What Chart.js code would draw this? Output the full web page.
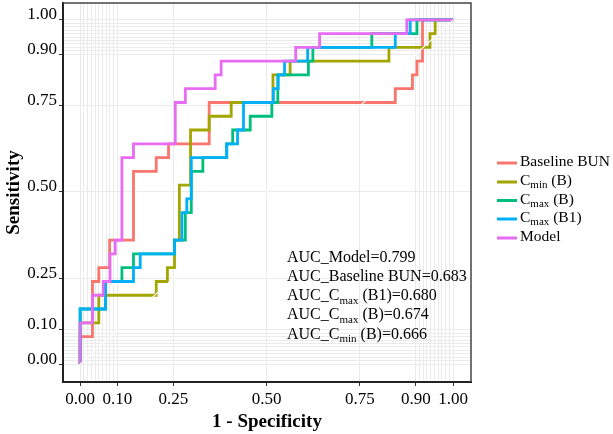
<!DOCTYPE html>
<html>
<head>
<meta charset="utf-8">
<script src="https://cdn.jsdelivr.net/npm/chart.js@4/dist/chart.umd.min.js"></script>
<style>
  html, body { margin: 0; padding: 0; background: #fff; }
</style>
</head>
<body>
<canvas id="roc" width="613" height="434"></canvas>
<script>
// --- ROC data: step corners (1 - specificity, sensitivity) ---
const bunFpr   = [0, 0, 0.033, 0.050, 0.079, 0.143, 0.204, 0.237, 0.346, 0.845, 0.891, 0.903, 0.918, 1];
const bunTpr   = [0, 0.08, 0.24, 0.28, 0.36, 0.56, 0.60, 0.64, 0.76, 0.80, 0.84, 0.88, 1.00, 1];

const cminFpr  = [0, 0, 0.050, 0.204, 0.234, 0.253, 0.266, 0.296, 0.346, 0.405, 0.517, 0.563, 0.828, 0.938, 0.952, 1];
const cminTpr  = [0, 0.12, 0.20, 0.24, 0.28, 0.36, 0.52, 0.68, 0.72, 0.76, 0.84, 0.88, 0.92, 0.96, 1.00, 1];

const cmaxBFpr = [0, 0, 0.068, 0.112, 0.143, 0.253, 0.282, 0.298, 0.329, 0.393, 0.409, 0.456, 0.514, 0.530, 0.612, 0.624, 0.782, 0.903, 1];
const cmaxBTpr = [0, 0.16, 0.24, 0.28, 0.32, 0.36, 0.44, 0.56, 0.60, 0.64, 0.68, 0.72, 0.76, 0.84, 0.88, 0.92, 0.96, 1.00, 1];

const cmaxB1Fpr = [0, 0, 0.068, 0.143, 0.161, 0.253, 0.273, 0.286, 0.298, 0.393, 0.422, 0.438, 0.518, 0.531, 0.548, 0.610, 0.845, 0.885, 1];
const cmaxB1Tpr = [0, 0.16, 0.24, 0.28, 0.32, 0.36, 0.44, 0.48, 0.60, 0.64, 0.68, 0.76, 0.80, 0.84, 0.88, 0.92, 0.96, 1.00, 1];

const modelFpr = [0, 0, 0.033, 0.062, 0.080, 0.094, 0.112, 0.143, 0.255, 0.282, 0.362, 0.378, 0.578, 0.642, 0.876, 1];
const modelTpr = [0, 0.12, 0.20, 0.24, 0.32, 0.36, 0.60, 0.64, 0.76, 0.80, 0.84, 0.88, 0.92, 0.96, 1.00, 1];

const seriesColors = ['#F8766D', '#A3A500', '#00BF7D', '#00B0F6', '#E76BF3'];
const fprList = [bunFpr, cminFpr, cmaxBFpr, cmaxB1Fpr, modelFpr];
const tprList = [bunTpr, cminTpr, cmaxBTpr, cmaxB1Tpr, modelTpr];

// legend / annotation text, [text, isSubscript]
const legendParts = [
  [['Baseline BUN']],
  [['C'], ['min', 1], [' (B)']],
  [['C'], ['max', 1], [' (B)']],
  [['C'], ['max', 1], [' (B1)']],
  [['Model']]
];
const aucParts = [
  [['AUC_Model=0.799']],
  [['AUC_Baseline BUN=0.683']],
  [['AUC_C'], ['max', 1], [' (B1)=0.680']],
  [['AUC_C'], ['max', 1], [' (B)=0.674']],
  [['AUC_C'], ['min', 1], [' (B)=0.666']]
];

// axis breaks: labelled ones + the dense minor grid near 0 and 1
const tickLabels = [0, 0.1, 0.25, 0.5, 0.75, 0.9, 1];
const gridValues = [0, 0.01, 0.02, 0.03, 0.04, 0.05, 0.06, 0.07, 0.08, 0.09, 0.1,
                    0.25, 0.5, 0.75,
                    0.9, 0.91, 0.92, 0.93, 0.94, 0.95, 0.96, 0.97, 0.98, 0.99, 1];

const serif = "'Liberation Serif', 'Times New Roman', serif";

function isLabelled(v) {
  return tickLabels.some(t => Math.abs(t - v) < 1e-6);
}

function axisOptions(min, max, titleText, isY) {
  return {
    type: 'linear',
    min: min,
    max: max,
    afterBuildTicks: s => { s.ticks = gridValues.map(v => ({ value: v })); },
    afterFit: s => {
      if (isY) s.width = 63; else s.height = 52;
      // keep the panel where the reference has it, labels may overhang
      s.paddingTop = 0; s.paddingBottom = 0; s.paddingLeft = 0; s.paddingRight = 0;
    },
    ticks: {
      autoSkip: false,
      maxRotation: 0,
      minRotation: 0,
      padding: isY ? 2 : 3,
      labelOffset: isY ? -5 : 0,
      color: '#000',
      font: { family: serif, size: 17 },
      callback: v => isLabelled(v) ? v.toFixed(2) : ''
    },
    grid: {
      color: '#EBEBEB',
      lineWidth: 1,
      tickLength: 4,
      tickColor: c => (c.tick && isLabelled(c.tick.value)) ? '#333' : 'rgba(0,0,0,0)'
    },
    border: { display: true, color: '#222', width: 2 },
    title: {
      display: true,
      text: titleText,
      color: '#000',
      font: { family: serif, size: 19, weight: 'bold' },
      padding: isY ? { top: 3, bottom: 0 } : { top: 0, bottom: 1 }
    }
  };
}

function drawRich(ctx, parts, x, y, size) {
  parts.forEach(p => {
    const sub = p[1];
    ctx.font = (sub ? Math.round(size * 0.68) : size) + 'px ' + serif;
    ctx.fillText(p[0], x, y + (sub ? size * 0.22 : 0));
    x += ctx.measureText(p[0]).width;
  });
}

const decor = {
  id: 'decor',
  afterDraw(chart) {
    const { ctx, chartArea: a } = chart;
    ctx.save();
    // top / right panel border
    ctx.strokeStyle = '#444';
    ctx.lineWidth = 1.5;
    ctx.beginPath();
    ctx.moveTo(a.left, a.top);
    ctx.lineTo(a.right, a.top);
    ctx.lineTo(a.right, a.bottom);
    ctx.stroke();

    ctx.fillStyle = '#000';
    ctx.textBaseline = 'alphabetic';
    ctx.textAlign = 'left';

    // legend
    const legBase = [166, 185, 203.5, 222, 241];
    legendParts.forEach((parts, i) => {
      ctx.strokeStyle = seriesColors[i];
      ctx.lineWidth = 3;
      ctx.beginPath();
      ctx.moveTo(497, legBase[i] - 3);
      ctx.lineTo(517, legBase[i] - 3);
      ctx.stroke();
      drawRich(ctx, parts, 520, legBase[i], 15.5);
    });

    // AUC annotations
    const aucBase = [261.5, 281, 300, 319, 338.5];
    aucParts.forEach((parts, i) => drawRich(ctx, parts, 287, aucBase[i], 16));
    ctx.restore();
  }
};

const datasets = fprList.map((fx, i) => ({
  data: fx.map((x, j) => ({ x: x, y: tprList[i][j] })),
  borderColor: seriesColors[i],
  borderWidth: 2.8,
  showLine: true,
  stepped: 'before',   // horizontal run first, then the vertical rise
  pointRadius: 0,
  fill: false,
  order: 5 - i
}));
// white chance diagonal, drawn over the curves
datasets.push({
  data: [{ x: 0, y: 0 }, { x: 1, y: 1 }],
  borderColor: '#ffffff',
  borderWidth: 1.2,
  showLine: true,
  pointRadius: 0,
  order: -1
});

new Chart(document.getElementById('roc'), {
  type: 'scatter',
  data: { datasets },
  options: {
    responsive: false,
    animation: false,
    layout: { padding: { top: 3, right: 142, left: 0, bottom: 0 } },
    plugins: { legend: { display: false }, tooltip: { enabled: false } },
    scales: {
      x: axisOptions(-0.046, 1.048, '1 - Specificity', false),
      y: axisOptions(-0.052, 1.049, 'Sensitivity', true)
    }
  },
  plugins: [decor]
});
</script>
</body>
</html>
